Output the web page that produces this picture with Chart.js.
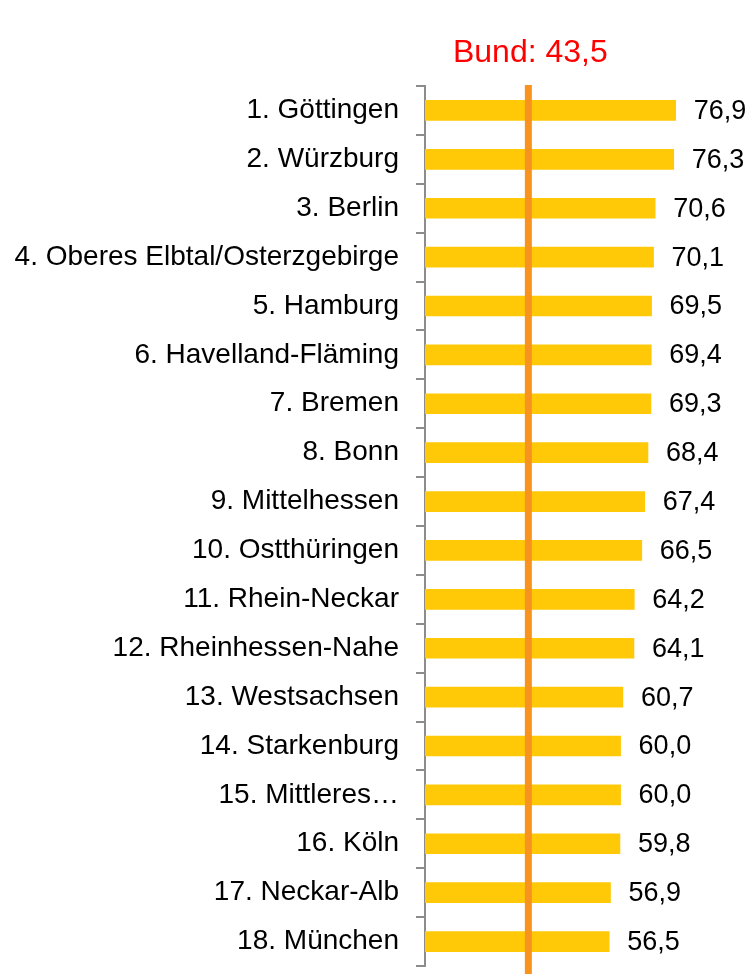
<!DOCTYPE html>
<html>
<head>
<meta charset="utf-8">
<script src="https://cdn.jsdelivr.net/npm/chart.js@4/dist/chart.umd.min.js"></script>
<style>
  body { margin: 0; background: #fff; }
  #wrap { width: 751px; height: 974px; }
</style>
</head>
<body>
<div id="wrap"><canvas id="chart"></canvas></div>
<script>
const regions = [
    '1. Göttingen', '2. Würzburg', '3. Berlin', '4. Oberes Elbtal/Osterzgebirge',
    '5. Hamburg', '6. Havelland-Fläming', '7. Bremen', '8. Bonn',
    '9. Mittelhessen', '10. Ostthüringen', '11. Rhein-Neckar', '12. Rheinhessen-Nahe',
    '13. Westsachsen', '14. Starkenburg', '15. Mittleres…', '16. Köln',
    '17. Neckar-Alb', '18. München'
];
const values = [76.9, 76.3, 70.6, 70.1, 69.5, 69.4, 69.3, 68.4, 67.4, 66.5, 64.2, 64.1, 60.7, 60.0, 60.0, 59.8, 56.9, 56.5];
const bundValue = 43.5;
// where the reference line sits on the value axis in the picture
const bundLineAt = 31.7;

const fmt = (v) => v.toFixed(1).replace('.', ',');
const FONT = '"Liberation Sans", Arial, sans-serif';

// value labels next to each bar
const valueLabels = {
    id: 'valueLabels',
    afterDatasetsDraw(chart) {
        const ctx = chart.ctx;
        const meta = chart.getDatasetMeta(0);
        ctx.save();
        ctx.font = '27px ' + FONT;
        ctx.fillStyle = '#000';
        ctx.textBaseline = 'middle';
        ctx.textAlign = 'left';
        meta.data.forEach((bar, i) => {
            ctx.fillText(fmt(values[i]), bar.x + 18, bar.y + 1);
        });
        ctx.restore();
    },
};

// orange "Bund" line with red caption
const bundLine = {
    id: 'bundLine',
    afterDatasetsDraw(chart) {
        const ctx = chart.ctx;
        const x = chart.scales.x.getPixelForValue(bundLineAt);
        ctx.save();
        ctx.strokeStyle = '#F7931E';
        ctx.lineWidth = 7;
        ctx.beginPath();
        ctx.moveTo(x, chart.chartArea.top - 1);
        ctx.lineTo(x, chart.height);
        ctx.stroke();
        ctx.font = '32px ' + FONT;
        ctx.fillStyle = '#FF0000';
        ctx.textAlign = 'center';
        ctx.textBaseline = 'middle';
        ctx.fillText('Bund: ' + fmt(bundValue), x + 2, 53);
        ctx.restore();
    },
};

new Chart(document.getElementById('chart'), {
    type: 'bar',
    data: {
        labels: regions,
        datasets: [
            {
                data: values,
                backgroundColor: '#FFC907',
                barThickness: 20,
            },
        ],
    },
    options: {
        indexAxis: 'y',
        responsive: true,
        maintainAspectRatio: false,
        animation: false,
        layout: { autoPadding: false, padding: { top: 86, bottom: 8, left: 0, right: 0 } },
        plugins: {
            legend: { display: false },
            tooltip: { enabled: false },
        },
        scales: {
            x: {
                display: false,
                min: 0,
                max: 100,
            },
            y: {
                afterFit(scale) {
                    scale.width = 425;
                    scale.paddingTop = 0;
                    scale.paddingBottom = 0;
                },
                border: { display: true, color: '#8C8C8C', width: 2 },
                grid: {
                    offset: true,
                    drawOnChartArea: false,
                    drawTicks: true,
                    tickLength: 9,
                    color: '#8C8C8C',
                    lineWidth: 2,
                },
                ticks: {
                    color: '#000',
                    padding: 17,
                    font: { size: 28, family: FONT },
                    autoSkip: false,
                },
            },
        },
    },
    plugins: [valueLabels, bundLine],
});
</script>
</body>
</html>
